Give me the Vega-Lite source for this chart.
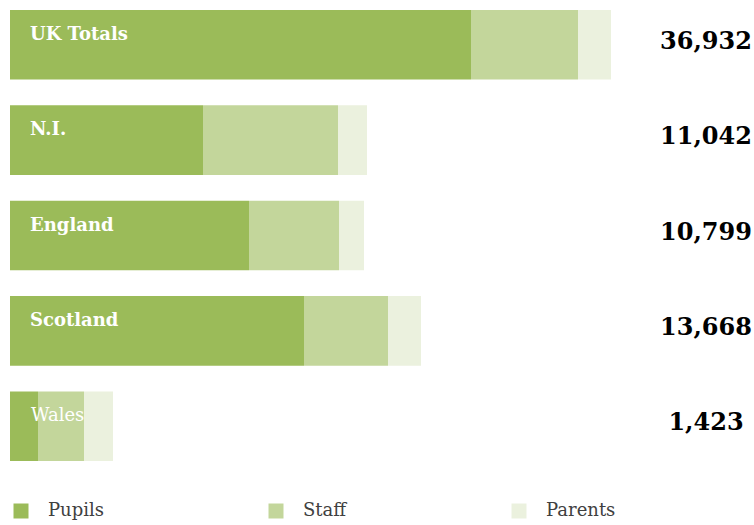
{
  "$schema": "https://vega.github.io/schema/vega-lite/v6.json",
  "autosize": {"type": "fit", "contains": "padding"},
  "width": 754,
  "height": 525,
  "padding": 0,
  "background": "white",
  "config": {"view": {"stroke": null}},
  "datasets": {
    "segs": [
      {"region": "UK Totals", "group": "Pupils", "value": 461},
      {"region": "UK Totals", "group": "Staff", "value": 107},
      {"region": "UK Totals", "group": "Parents", "value": 33},
      {"region": "N.I.", "group": "Pupils", "value": 193},
      {"region": "N.I.", "group": "Staff", "value": 135},
      {"region": "N.I.", "group": "Parents", "value": 29},
      {"region": "England", "group": "Pupils", "value": 239},
      {"region": "England", "group": "Staff", "value": 90},
      {"region": "England", "group": "Parents", "value": 25},
      {"region": "Scotland", "group": "Pupils", "value": 294},
      {"region": "Scotland", "group": "Staff", "value": 84},
      {"region": "Scotland", "group": "Parents", "value": 33},
      {"region": "Wales", "group": "Pupils", "value": 28},
      {"region": "Wales", "group": "Staff", "value": 46},
      {"region": "Wales", "group": "Parents", "value": 29}
    ],
    "totals": [
      {"region": "UK Totals", "total": "36,932"},
      {"region": "N.I.", "total": "11,042"},
      {"region": "England", "total": "10,799"},
      {"region": "Scotland", "total": "13,668"},
      {"region": "Wales", "total": "1,423"}
    ]
  },
  "encoding": {
    "y": {
      "field": "region",
      "type": "nominal",
      "sort": ["UK Totals", "N.I.", "England", "Scotland", "Wales"],
      "scale": {"range": [10, 461], "paddingInner": 0.27, "paddingOuter": 0},
      "axis": null
    }
  },
  "layer": [
    {
      "data": {"name": "segs"},
      "transform": [
        {"calculate": "indexof(['Pupils','Staff','Parents'], datum.group)", "as": "segOrder"}
      ],
      "mark": {"type": "bar"},
      "encoding": {
        "x": {
          "field": "value",
          "type": "quantitative",
          "stack": "zero",
          "scale": {"domain": [-10, 744], "nice": false, "zero": false},
          "axis": null
        },
        "order": {"field": "segOrder", "type": "quantitative", "sort": "ascending"},
        "color": {
          "field": "group",
          "type": "nominal",
          "sort": ["Pupils", "Staff", "Parents"],
          "scale": {"domain": ["Pupils", "Staff", "Parents"], "range": ["#9BBB59", "#C3D69B", "#EBF1DE"]},
          "legend": {
            "title": null,
            "orient": "none",
            "direction": "horizontal",
            "legendX": 12,
            "legendY": 502,
            "symbolType": "square",
            "symbolSize": 225,
            "symbolStrokeWidth": 0,
            "symbolOpacity": 1,
            "labelFont": "DejaVu Serif",
            "labelFontSize": 18,
            "labelColor": "#404040",
            "labelOffset": 18,
            "columnPadding": 163
          }
        }
      }
    },
    {
      "data": {"name": "totals"},
      "transform": [{"filter": "datum.region !== 'Wales'"}],
      "mark": {"type": "text", "align": "left", "baseline": "middle", "font": "DejaVu Serif", "fontWeight": "bold", "fontSize": 18, "dx": 20, "dy": -10, "color": "white"},
      "encoding": {
        "x": {"datum": 0, "type": "quantitative"},
        "text": {"field": "region"}
      }
    },
    {
      "data": {"name": "totals"},
      "transform": [{"filter": "datum.region === 'Wales'"}],
      "mark": {"type": "text", "align": "left", "baseline": "middle", "font": "DejaVu Serif", "fontWeight": "normal", "fontSize": 18, "dx": 21, "dy": -10, "color": "white"},
      "encoding": {
        "x": {"datum": 0, "type": "quantitative"},
        "text": {"field": "region"}
      }
    },
    {
      "data": {"name": "totals"},
      "mark": {"type": "text", "align": "center", "baseline": "middle", "font": "DejaVu Serif", "fontWeight": "bold", "fontSize": 24, "dx": -48, "dy": -3, "color": "black"},
      "encoding": {
        "x": {"value": "width"},
        "text": {"field": "total"}
      }
    }
  ]
}
